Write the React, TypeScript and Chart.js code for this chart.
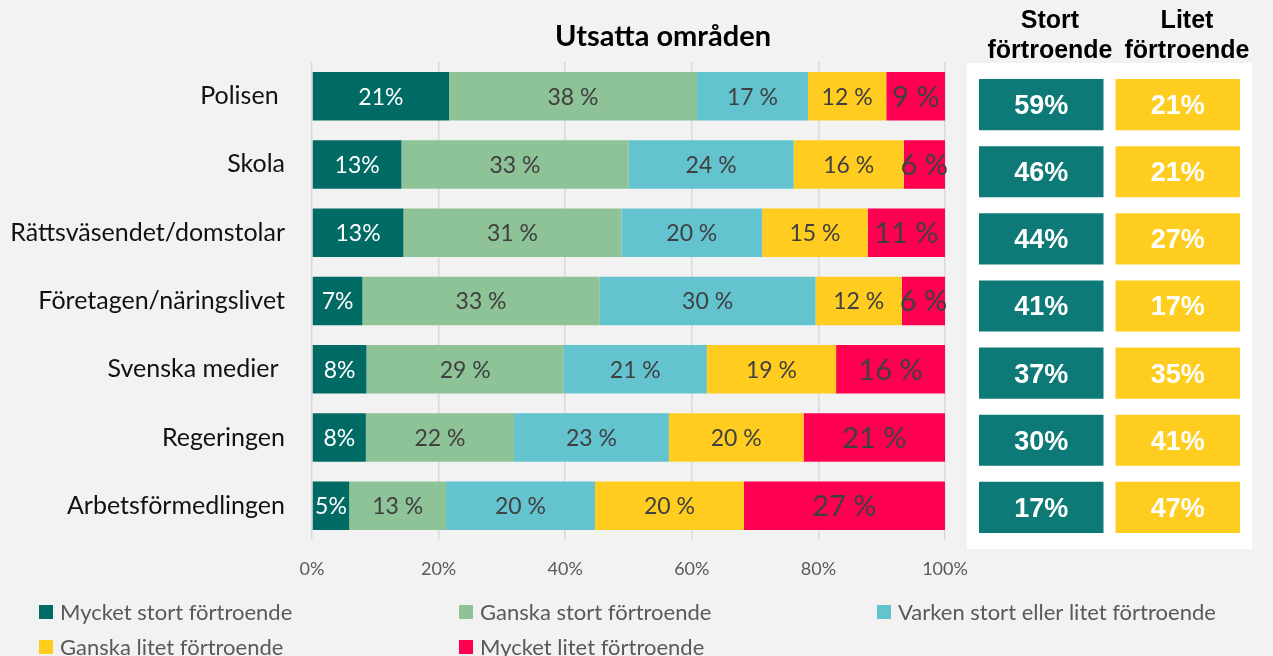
import React, { useEffect, useRef } from "react";
import { Chart, registerables } from "chart.js";

Chart.register(...registerables);

const categories = [
  "Polisen ",
  "Skola",
  "Rättsväsendet/domstolar",
  "Företagen/näringslivet",
  "Svenska medier ",
  "Regeringen",
  "Arbetsförmedlingen",
];
const seriesNames = [
  "Mycket stort förtroende",
  "Ganska stort förtroende",
  "Varken stort eller litet förtroende",
  "Ganska litet förtroende",
  "Mycket litet förtroende",
];
const mycketStort = [21, 13, 13, 7, 8, 8, 5];
const ganskaStort = [38, 33, 31, 33, 29, 22, 13];
const varken = [17, 24, 20, 30, 21, 23, 20];
const ganskaLitet = [12, 16, 15, 12, 19, 20, 20];
const mycketLitet = [9, 6, 11, 6, 16, 21, 27];
const stortTotal = [59, 46, 44, 41, 37, 30, 17];
const litetTotal = [21, 21, 27, 17, 35, 41, 47];
const xTickValues = [0, 20, 40, 60, 80, 100];
const chartTitle = "Utsatta områden";
const summaryHeaders = [
  ["Stort", "förtroende"],
  ["Litet", "förtroende"],
];

const seriesColors = ["#006A65", "#8EC297", "#63C4D0", "#FFCC1F", "#FF0050"];
const boxColors = ["#0E7A77", "#FFCD20"];

const allSeries = [mycketStort, ganskaStort, varken, ganskaLitet, mycketLitet];
const rowSums = categories.map((_, i) => allSeries.reduce((s, arr) => s + arr[i], 0));

const LABEL_FONT = "Lato, 'Noto Sans', sans-serif";
const HEAD_FONT = "'Liberation Sans', Arial, sans-serif";

const segmentLabels = {
  id: "segmentLabels",
  afterDatasetsDraw(chart: any) {
    const ctx = chart.ctx;
    ctx.save();
    ctx.textAlign = "center";
    ctx.textBaseline = "middle";
    chart.data.datasets.forEach((ds: any, di: number) => {
      const meta = chart.getDatasetMeta(di);
      const raw = allSeries[di];
      meta.data.forEach((el: any, i: number) => {
        const cx = (el.x + el.base) / 2;
        const text = di === 0 ? `${raw[i]}%` : `${raw[i]} %`;
        ctx.fillStyle = di === 0 ? "#ffffff" : "#404040";
        ctx.font = di === 4 ? `29px ${LABEL_FONT}` : `23px ${LABEL_FONT}`;
        ctx.fillText(text, cx, el.y + 1);
      });
    });
    ctx.restore();
  },
  afterDraw(chart: any) {
    const ctx = chart.ctx;
    ctx.save();
    // title
    ctx.fillStyle = "#000000";
    ctx.font = `bold 29px ${LABEL_FONT}`;
    ctx.textAlign = "center";
    ctx.textBaseline = "alphabetic";
    ctx.fillText(chartTitle, 663, 46);
    // summary headers
    ctx.font = `bold 25px ${HEAD_FONT}`;
    const hx = [1050, 1187];
    summaryHeaders.forEach((lines, k) => {
      ctx.fillText(lines[0], hx[k], 28);
      ctx.fillText(lines[1], hx[k], 58);
    });
    // legend
    const cols = [39, 459, 877];
    const rows = [612, 647];
    ctx.textAlign = "left";
    ctx.textBaseline = "middle";
    ctx.font = `22px ${LABEL_FONT}`;
    seriesNames.forEach((name, k) => {
      const x = cols[k % 3];
      const y = rows[Math.floor(k / 3)];
      ctx.fillStyle = seriesColors[k];
      ctx.fillRect(x, y - 7, 14, 14);
      ctx.fillStyle = "#595959";
      ctx.fillText(name, x + 21, y + 1);
    });
    ctx.restore();
  },
};

const boxLabels = {
  id: "boxLabels",
  afterDatasetsDraw(chart: any) {
    const ctx = chart.ctx;
    ctx.save();
    ctx.textAlign = "center";
    ctx.textBaseline = "middle";
    ctx.fillStyle = "#ffffff";
    ctx.font = `bold 27px ${HEAD_FONT}`;
    const vals = [stortTotal, litetTotal];
    chart.data.datasets.forEach((_: any, di: number) => {
      const meta = chart.getDatasetMeta(di);
      meta.data.forEach((el: any, i: number) => {
        const cx = (el.x + el.base) / 2;
        ctx.fillText(`${vals[di][i]}%`, cx, el.y + 2);
      });
    });
    ctx.restore();
  },
};

export default function App() {
  const mainRef = useRef<HTMLCanvasElement | null>(null);
  const boxRef = useRef<HTMLCanvasElement | null>(null);

  useEffect(() => {
    if (!mainRef.current || !boxRef.current) return;
    const main = new Chart(mainRef.current, {
      type: "bar",
      data: {
        labels: categories,
        datasets: allSeries.map((arr, di) => ({
          label: seriesNames[di],
          data: arr.map((v, i) => (v / rowSums[i]) * 100),
          backgroundColor: seriesColors[di],
          borderWidth: 0,
          inflateAmount: 0,
          barPercentage: 0.71,
          categoryPercentage: 1,
        })),
      },
      options: {
        indexAxis: "y",
        animation: false,
        responsive: false,
        events: [],
        layout: { padding: { left: 0, right: 328, top: 62, bottom: 76 } },
        scales: {
          x: {
            stacked: true,
            min: 0,
            max: 100,
            afterBuildTicks: (scale: any) => {
              scale.ticks = xTickValues.map((v) => ({ value: v }));
            },
            afterFit: (scale: any) => {
              scale.height = 40;
            },
            grid: { color: "#D9D9D9", lineWidth: 1.5, drawTicks: false },
            border: { display: false },
            ticks: {
              padding: 18,
              color: "#595959",
              font: { family: LABEL_FONT, size: 18 },
              callback: (v: any) => `${v}%`,
            },
          },
          y: {
            stacked: true,
            afterFit: (scale: any) => {
              scale.width = 312;
            },
            grid: { display: false, drawTicks: false },
            border: { display: false },
            ticks: {
              padding: 27,
              color: "#111111",
              font: { family: LABEL_FONT, size: 25 },
            },
          },
        },
        plugins: { legend: { display: false }, tooltip: { enabled: false }, title: { display: false } },
      },
      plugins: [segmentLabels],
    } as any);

    const boxes = new Chart(boxRef.current, {
      type: "bar",
      data: {
        labels: categories,
        datasets: [stortTotal, litetTotal].map((arr, di) => ({
          label: summaryHeaders[di].join(" "),
          data: arr.map(() => 1),
          backgroundColor: boxColors[di],
          borderColor: "#ffffff",
          borderWidth: 6,
          borderSkipped: false,
          inflateAmount: 0,
          barPercentage: 0.94,
          categoryPercentage: 1,
        })),
      },
      options: {
        indexAxis: "y",
        animation: false,
        responsive: false,
        events: [],
        layout: { padding: { left: 6, right: 6, top: 8, bottom: 8 } },
        scales: {
          x: { display: false, stacked: true, min: 0, max: 2 },
          y: { display: false, stacked: true },
        },
        plugins: { legend: { display: false }, tooltip: { enabled: false } },
      },
      plugins: [boxLabels],
    } as any);

    let alive = true;
    const fonts = (document as any).fonts;
    if (fonts && fonts.load) {
      Promise.all([
        fonts.load(`23px Lato`),
        fonts.load(`bold 29px Lato`),
        fonts.load(`bold 25px "Liberation Sans"`),
      ])
        .then(() => {
          if (alive) {
            main.update();
            boxes.update();
          }
        })
        .catch(() => {});
    }

    return () => {
      alive = false;
      main.destroy();
      boxes.destroy();
    };
  }, []);

  return (
    <div
      style={{
        position: "absolute",
        left: 0,
        top: 0,
        width: 1273,
        height: 656,
        background: "#F2F2F2",
        overflow: "hidden",
      }}
    >
      <div
        style={{
          position: "absolute",
          left: 967,
          top: 63,
          width: 285,
          height: 486,
          background: "#FFFFFF",
        }}
      >
        <canvas ref={boxRef} width={285} height={486} style={{ display: "block" }} />
      </div>
      <canvas
        ref={mainRef}
        width={1273}
        height={656}
        style={{ position: "absolute", left: 0, top: 0, display: "block" }}
      />
    </div>
  );
}
